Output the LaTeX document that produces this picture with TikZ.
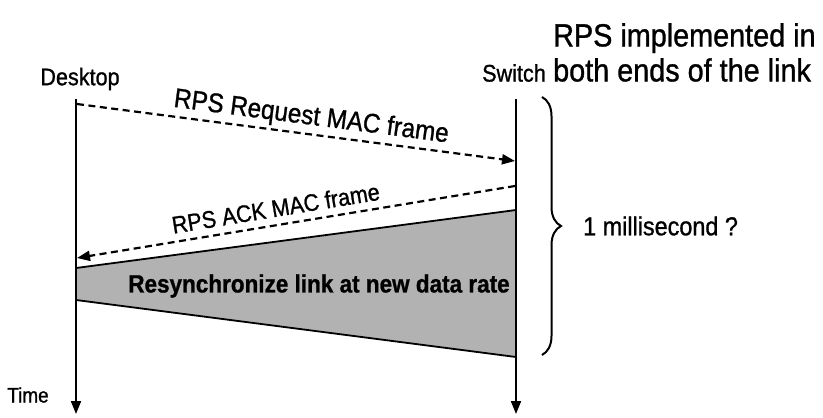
\documentclass[tikz,border=0pt]{standalone}
\usepackage{fontspec}
\setmainfont{Liberation Sans}
\newfontfamily\narrowfont[FakeStretch=0.9,FakeBold=1]{Liberation Sans}
\usetikzlibrary{arrows.meta,decorations.pathreplacing}
\begin{document}
\begin{tikzpicture}[x=1pt,y=1pt,
  lbl/.style={font=\narrowfont\fontsize{24}{28}\selectfont, inner sep=0pt},
  life/.style={line width=2pt, -{Triangle[length=13pt,width=10pt]}},
  msg/.style={line width=2.2pt, dash pattern=on 7pt off 4.5pt, -{Triangle[length=13pt,width=10pt]}},
  band/.style={fill=black!30, draw=black, line width=1.8pt}]
\useasboundingbox (0,0) rectangle (823,-418);
% labels
\node[lbl] (desk) at (80,-79) {Desktop};
\node[lbl] (sw) at (514,-73) {Switch};
\node[font=\narrowfont\fontsize{32}{35}\selectfont, inner sep=0pt, anchor=north west, align=left] (note) at (553,-23) {RPS implemented in\\both ends of the link};
\node[font=\narrowfont\fontsize{21}{25}\selectfont, inner sep=0pt] (time) at (28,-395) {Time};
% lifelines
\coordinate (dtop) at (76,-99);
\coordinate (dbot) at (76,-414);
\coordinate (stop) at (516,-99);
\coordinate (sbot) at (516,-414);
% band
\coordinate (b1) at (76,-268);
\coordinate (b2) at (516,-210);
\coordinate (b3) at (516,-357);
\coordinate (b4) at (76,-300);
\filldraw[band] (b1) -- (b2) -- (b3) -- (b4) -- cycle;
\node[font=\narrowfont\bfseries\fontsize{25}{28}\selectfont, inner sep=0pt] (resync) at (319,-286) {Resynchronize link at new data rate};
\draw[life] (dtop) -- (dbot);
\draw[life] (stop) -- (sbot);
% messages
\coordinate (r1) at (77,-104);
\coordinate (r2) at (515,-161);
\coordinate (a1) at (515,-186);
\coordinate (a2) at (77,-258);
\draw[msg] (r1) -- node[lbl, font=\narrowfont\fontsize{27}{30}\selectfont, sloped, above=3pt, pos=0.53] (reqlbl) {RPS Request MAC frame} (r2);
\draw[msg] (a1) -- node[lbl, sloped, above=7pt, pos=0.54] (acklbl) {RPS ACK MAC frame} (a2);
% brace
\coordinate (bt) at (542,-97);
\coordinate (bb) at (542,-355);
\draw[line width=2pt, decorate, decoration={brace, amplitude=19pt}] (bt) -- (bb);
\node[lbl, font=\narrowfont\fontsize{26}{30}\selectfont, anchor=west] (ms) at (583,-226) {1 millisecond ?};
\end{tikzpicture}
\end{document}
